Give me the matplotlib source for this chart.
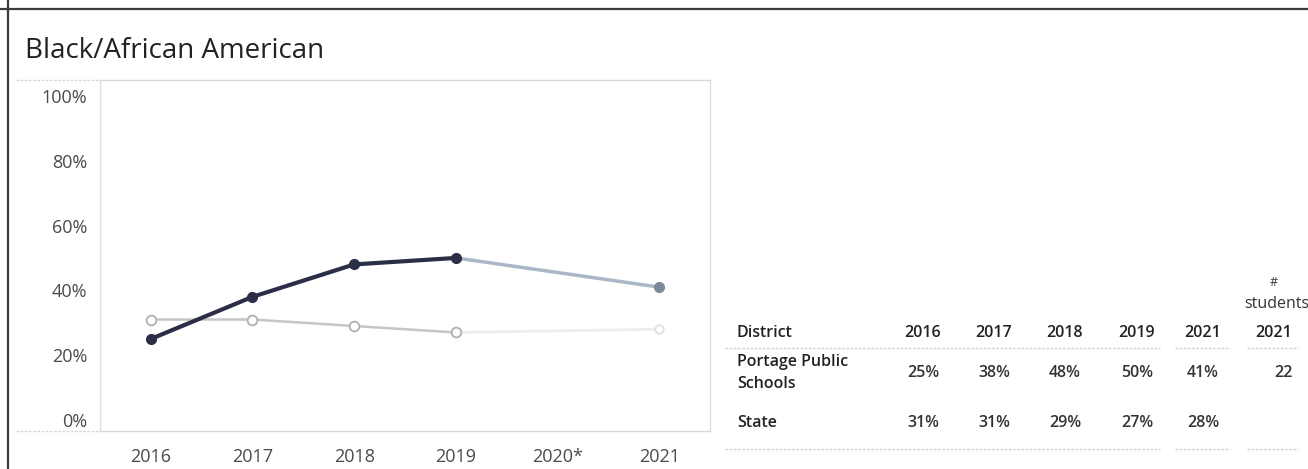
import matplotlib
matplotlib.use("Agg")
import matplotlib.pyplot as plt
from matplotlib.lines import Line2D

# ---------------- data ----------------
title = "Black/African American"
x_labels = ["2016", "2017", "2018", "2019", "2020*", "2021"]
years = ["2016", "2017", "2018", "2019", "2021"]
district_name = "Portage Public Schools"
district_vals = [25, 38, 48, 50, 41]
state_vals = [31, 31, 29, 27, 28]
students_2021 = 22
y_ticks = [0, 20, 40, 60, 80, 100]

W, H = 1308, 469
fig = plt.figure(figsize=(W / 100, H / 100), dpi=100)
plt.rcParams['font.family'] = ['Open Sans', 'DejaVu Sans']

def fx(px):
    return px / W

def fy(py):
    return 1 - py / H

# frame lines of the dashboard
fig.add_artist(Line2D([0, 1], [fy(9), fy(9)], color="#3a3a3a", lw=1.6, transform=fig.transFigure))
fig.add_artist(Line2D([fx(8), fx(8)], [0, 1], color="#3a3a3a", lw=1.6, transform=fig.transFigure))

fig.text(fx(25), fy(51), title, fontsize=20, color="#222222", va="center", ha="left")

# ---------------- chart ----------------
ax_l, ax_r, ax_t, ax_b = 100, 710, 80, 431
ax = fig.add_axes([fx(ax_l), fy(ax_b), fx(ax_r - ax_l), (ax_b - ax_t) / H])
xpos = [x_labels.index(y) for y in years]

# district: solid dark through 2019, light segment to 2021
ax.plot(xpos[:4], district_vals[:4], color="#2b2e47", lw=3, marker="o", ms=7,
        mfc="#2b2e47", mec="#2b2e47", zorder=4)
ax.plot(xpos[3:], district_vals[3:], color="#a9b7c6", lw=2.5, zorder=3)
ax.plot(xpos[4:], district_vals[4:], ls="none", marker="o", ms=7, color="#7c8a9c", zorder=4)

# state: light grey hollow markers
ax.plot(xpos[:4], state_vals[:4], color="#c6c6c6", lw=1.8, marker="o", ms=7,
        mfc="white", mec="#b0b0b0", mew=1.3, zorder=2)
ax.plot(xpos[3:], state_vals[3:], color="#ededf1", lw=2, zorder=1)
ax.plot(xpos[4:], state_vals[4:], ls="none", marker="o", ms=6, mfc="white",
        mec="#dedee2", mew=1.2, zorder=2)

ax.set_xlim(-0.5, 5.5)
ax.set_ylim(-3.4, 104.9)
ax.set_xticks(range(len(x_labels)))
ax.set_xticklabels(x_labels)
ax.set_yticks(y_ticks)
ax.set_yticklabels([f"{v}%" for v in y_ticks])
ax.tick_params(length=0, labelsize=13, colors="#4a4a4a")
ax.tick_params(axis="x", pad=12)
ax.tick_params(axis="y", pad=9)
for s in ["left", "right"]:
    ax.spines[s].set_color("#d9e0e8")
    ax.spines[s].set_linewidth(1)
for s in ["top", "bottom"]:
    ax.spines[s].set_color("#d8d8d8")
    ax.spines[s].set_linestyle((0, (2, 1)))
    ax.spines[s].set_linewidth(1)

# extend outer dotted box lines left
for py in (ax_t, ax_b):
    fig.add_artist(Line2D([fx(16), fx(ax_l)], [fy(py), fy(py)], color="#d8d8d8", lw=1,
                          ls=(0, (2, 1)), transform=fig.transFigure))

# ---------------- table ----------------
col_x = [923, 994, 1065, 1137, 1203]
tcol = "#222222"
tsize = 11.5
fw = "semibold"

fig.text(fx(737), fy(333), "District", fontsize=tsize, weight=fw, color=tcol, va="center", ha="left")
for cx, yr in zip(col_x, years):
    fig.text(fx(cx), fy(333), yr, fontsize=tsize, weight=fw, color=tcol, va="center", ha="center")
fig.text(fx(1274), fy(333), years[-1], fontsize=tsize, weight=fw, color=tcol, va="center", ha="center")
fig.text(fx(1274), fy(282), "#", fontsize=9, color="#333333", va="center", ha="center")
fig.text(fx(1277), fy(304), "students", fontsize=tsize, color="#333333", va="center", ha="center")

name_lines = ["Portage Public", "Schools"]
fig.text(fx(737), fy(362), name_lines[0], fontsize=tsize, weight=fw, color=tcol, va="center", ha="left")
fig.text(fx(737), fy(384), name_lines[1], fontsize=tsize, weight=fw, color=tcol, va="center", ha="left")
for cx, v in zip(col_x, district_vals):
    fig.text(fx(cx), fy(373), f"{v}%", fontsize=tsize, weight=fw, color="#333333", va="center", ha="center")
fig.text(fx(1293), fy(373), str(students_2021), fontsize=tsize, weight=fw, color="#333333", va="center", ha="right")

fig.text(fx(737), fy(423), "State", fontsize=tsize, weight=fw, color=tcol, va="center", ha="left")
for cx, v in zip(col_x, state_vals):
    fig.text(fx(cx), fy(423), f"{v}%", fontsize=tsize, weight=fw, color="#333333", va="center", ha="center")

for py in (348, 449):
    for a, b in [(725, 1160), (1175, 1230), (1247, 1298)]:
        fig.add_artist(Line2D([fx(a), fx(b)], [fy(py), fy(py)], color="#d4d4d4", lw=1,
                              ls=(0, (2, 1)), transform=fig.transFigure))

fig.savefig("out.png", dpi=100)
